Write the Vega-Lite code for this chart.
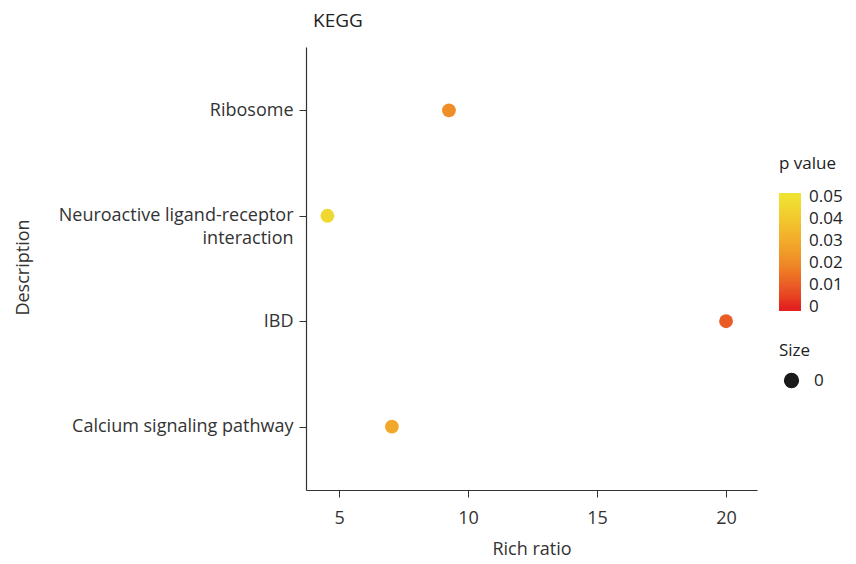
{
  "$schema": "https://vega.github.io/schema/vega-lite/v6.json",
  "autosize": "none",
  "padding": {"left": 306, "top": 47, "right": 99, "bottom": 74},
  "width": 451,
  "height": 443,
  "background": "white",
  "title": {"text": "KEGG", "anchor": "start", "frame": "group", "dx": 7, "offset": 16, "fontSize": 19, "fontWeight": "normal", "font": "Open Sans", "color": "#222"},
  "config": {
    "view": {"stroke": null},
    "font": "Open Sans",
    "axis": {"grid": false, "domainColor": "#333", "tickColor": "#333", "labelColor": "#333", "titleColor": "#333", "labelFont": "Open Sans", "titleFont": "Open Sans", "titleFontWeight": "normal"},
    "legend": {"labelFont": "Open Sans", "titleFont": "Open Sans"}
  },
  "data": {"values": [
    {"Description": "Ribosome", "RichRatio": 9.26, "p": 0.021, "Size": "0"},
    {"Description": "Neuroactive ligand-receptor interaction", "RichRatio": 4.55, "p": 0.046, "Size": "0"},
    {"Description": "IBD", "RichRatio": 20.0, "p": 0.01, "Size": "0"},
    {"Description": "Calcium signaling pathway", "RichRatio": 7.05, "p": 0.029, "Size": "0"}
  ]},
  "mark": {"type": "point", "filled": true, "opacity": 1, "size": 190},
  "encoding": {
    "x": {"field": "RichRatio", "type": "quantitative", "title": "Rich ratio",
      "scale": {"domain": [3.72, 21.2], "nice": false, "zero": false},
      "axis": {"values": [5, 10, 15, 20], "labelFontSize": 18, "titleFontSize": 18, "tickSize": 7, "labelPadding": 12, "titlePadding": 13, "domainWidth": 1.2}},
    "y": {"field": "Description", "type": "nominal", "title": "Description",
      "sort": ["Ribosome", "Neuroactive ligand-receptor interaction", "IBD", "Calcium signaling pathway"],
      "scale": {"type": "point", "padding": 0.6},
      "axis": {"labelFontSize": 18, "titleFontSize": 18, "tickSize": 7, "labelPadding": 6, "titleX": -274, "titleY": 220, "domainWidth": 1.2, "labelLimit": 400,
        "labelExpr": "datum.label == 'Neuroactive ligand-receptor interaction' ? ['Neuroactive ligand-receptor', 'interaction'] : datum.label", "labelLineHeight": 23}},
    "color": {"field": "p", "type": "quantitative", "title": "p value",
      "scale": {"domain": [-0.0018, 0, 0.01, 0.02, 0.03, 0.04, 0.05, 0.0518], "range": ["#e3221f", "#e3221f", "#ea5c25", "#ef8a27", "#f2ab2b", "#f2c82e", "#efe233", "#efe233"]},
      "legend": {"orient": "none", "legendX": 473, "legendY": 109, "gradientLength": 118, "gradientThickness": 22, "values": [0, 0.01, 0.02, 0.03, 0.04, 0.05], "format": "~g", "labelOverlap": false, "labelFontSize": 17, "titleFontSize": 17, "titleFontWeight": "normal", "titleColor": "#222", "labelColor": "#222", "direction": "vertical", "titlePadding": 20, "labelOffset": 8}},
    "shape": {"field": "Size", "type": "nominal", "title": "Size",
      "scale": {"range": ["circle"]},
      "legend": {"orient": "none", "legendX": 473, "legendY": 296, "labelFontSize": 17, "titleFontSize": 17, "titleFontWeight": "normal", "titleColor": "#222", "labelColor": "#222", "symbolFillColor": "#1a1a1a", "symbolStrokeColor": "#1a1a1a", "symbolSize": 190, "symbolOffset": 4, "labelOffset": 14, "titlePadding": 12}}
  }
}
